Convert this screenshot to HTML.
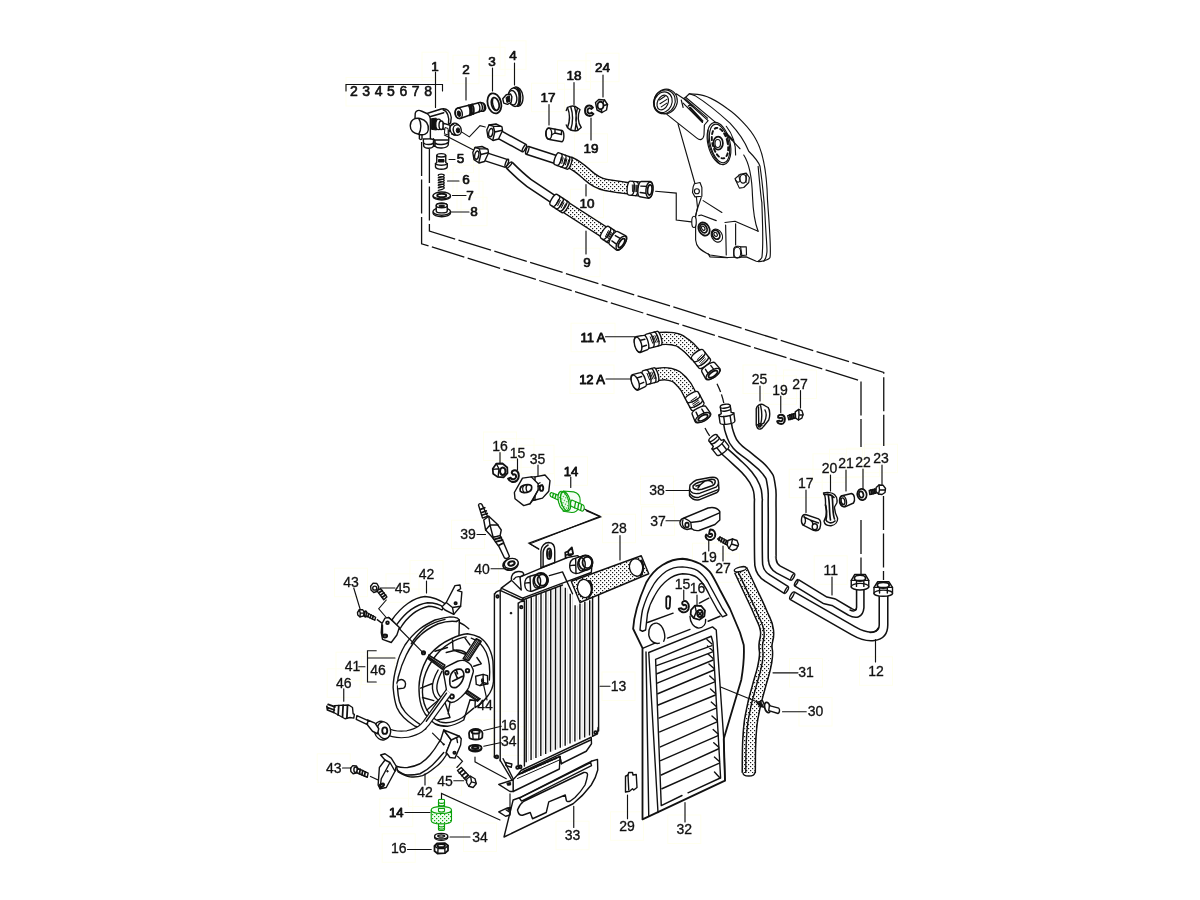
<!DOCTYPE html>
<html><head><meta charset="utf-8"><title>Oil cooler diagram</title>
<style>
html,body{margin:0;padding:0;background:#fff;}
body{width:1200px;height:900px;overflow:hidden;position:relative;font-family:"Liberation Sans",sans-serif;}
svg{position:absolute;left:0;top:0;will-change:transform;}
.l{vector-effect:non-scaling-stroke;fill:none;stroke:#111;stroke-width:1.4;stroke-linecap:round;stroke-linejoin:round;}
.w{vector-effect:non-scaling-stroke;fill:#fff;stroke:#111;stroke-width:1.4;stroke-linecap:round;stroke-linejoin:round;}
.k{vector-effect:non-scaling-stroke;fill:#111;stroke:#111;stroke-width:1;stroke-linejoin:round;}
.t{vector-effect:non-scaling-stroke;fill:none;stroke:#111;stroke-width:1.15;stroke-linecap:round;}
.d{vector-effect:non-scaling-stroke;fill:none;stroke:#111;stroke-width:1.3;stroke-dasharray:34 3.5;}
.ds{vector-effect:non-scaling-stroke;fill:none;stroke:#111;stroke-width:1.3;stroke-dasharray:9 2.5;}
.g{vector-effect:non-scaling-stroke;fill:#f4fdf4;stroke:#0aa00a;stroke-width:1.1;stroke-linejoin:round;}
.dot{vector-effect:non-scaling-stroke;fill:url(#dots);stroke:#111;stroke-width:1.4;stroke-linejoin:round;}
text{font-family:"Liberation Sans",sans-serif;font-size:14px;fill:#111;stroke:#111;stroke-width:.3px;text-anchor:middle;}
text.m{font-size:13.5px;stroke-width:.7px;stroke-linejoin:round;}
text.b{font-size:13px;stroke-width:.85px;word-spacing:-0.3px;stroke-linejoin:round;}
.hb{fill:none;stroke:#fbf7c8;stroke-width:1;}
.gl{vector-effect:non-scaling-stroke;fill:none;stroke:#0aa00a;stroke-width:1.3;stroke-linecap:round;}
.thin .l,.thin .w{stroke-width:1.15;}
</style></head>
<body>
<svg width="1200" height="900" viewBox="0 0 1200 900">
<defs>
<pattern id="dots" width="4" height="4" patternUnits="userSpaceOnUse"><rect width="4" height="4" fill="#fff"/><rect x="0" y="0" width="1.2" height="1.2" fill="#1c1c1c"/><rect x="2" y="2" width="1.2" height="1.2" fill="#1c1c1c"/></pattern>
<pattern id="gdots" width="4" height="4" patternUnits="userSpaceOnUse"><rect width="4" height="4" fill="#e9fbe9"/><rect x="0" y="0" width="1.2" height="1.2" fill="#10a810"/><rect x="2" y="2" width="1.2" height="1.2" fill="#10a810"/></pattern>
<pattern id="gdots10" width="4" height="4" patternUnits="userSpaceOnUse" patternTransform="scale(10)"><rect width="4" height="4" fill="#effcef"/><rect x="0" y="0" width="1.2" height="1.2" fill="#10a810"/><rect x="2" y="2" width="1.2" height="1.2" fill="#10a810"/></pattern>
<pattern id="gdots8" width="4" height="4" patternUnits="userSpaceOnUse" patternTransform="scale(8)"><rect width="4" height="4" fill="#effcef"/><rect x="0" y="0" width="1.2" height="1.2" fill="#10a810"/><rect x="2" y="2" width="1.2" height="1.2" fill="#10a810"/></pattern>
</defs>
<!--BOXES--><g fill="none" stroke="#ffffee" stroke-width="1"><rect x="422.0" y="52.2" width="26.0" height="28.5"/><rect x="453.0" y="55.2" width="26.0" height="28.5"/><rect x="479.0" y="47.2" width="26.0" height="28.5"/><rect x="500.0" y="40.8" width="26.0" height="28.5"/><rect x="531.5" y="83.2" width="33.0" height="28.5"/><rect x="557.5" y="60.8" width="33.0" height="28.5"/><rect x="586.0" y="53.2" width="33.0" height="28.5"/><rect x="574.5" y="133.8" width="33.0" height="28.5"/><rect x="447.5" y="144.2" width="26.0" height="28.5"/><rect x="453.0" y="165.2" width="26.0" height="28.5"/><rect x="457.0" y="181.2" width="26.0" height="28.5"/><rect x="461.0" y="197.2" width="26.0" height="28.5"/><rect x="570.5" y="189.2" width="33.0" height="28.5"/><rect x="574.0" y="248.2" width="26.0" height="28.5"/><rect x="571.0" y="323.2" width="44.0" height="28.5"/><rect x="570.0" y="365.0" width="44.0" height="28.5"/><rect x="743.0" y="365.0" width="33.0" height="28.5"/><rect x="763.5" y="375.8" width="33.0" height="28.5"/><rect x="783.5" y="370.0" width="33.0" height="28.5"/><rect x="813.0" y="453.8" width="33.0" height="28.5"/><rect x="829.5" y="449.2" width="33.0" height="28.5"/><rect x="846.5" y="448.2" width="33.0" height="28.5"/><rect x="864.5" y="444.2" width="33.0" height="28.5"/><rect x="789.2" y="469.2" width="33.0" height="28.5"/><rect x="640.5" y="476.2" width="33.0" height="28.5"/><rect x="641.5" y="506.8" width="33.0" height="28.5"/><rect x="692.5" y="543.2" width="33.0" height="28.5"/><rect x="706.5" y="553.8" width="33.0" height="28.5"/><rect x="814.2" y="555.8" width="33.0" height="28.5"/><rect x="859.5" y="656.8" width="33.0" height="28.5"/><rect x="789.5" y="658.5" width="33.0" height="28.5"/><rect x="666.0" y="570.0" width="33.0" height="28.5"/><rect x="681.0" y="574.2" width="33.0" height="28.5"/><rect x="483.5" y="432.0" width="33.0" height="28.5"/><rect x="501.0" y="438.8" width="33.0" height="28.5"/><rect x="521.0" y="445.2" width="33.0" height="28.5"/><rect x="554.5" y="456.8" width="33.0" height="28.5"/><rect x="451.5" y="520.2" width="33.0" height="28.5"/><rect x="465.5" y="555.0" width="33.0" height="28.5"/><rect x="602.5" y="514.2" width="33.0" height="28.5"/><rect x="410.0" y="560.5" width="33.0" height="28.5"/><rect x="334.5" y="568.2" width="33.0" height="28.5"/><rect x="386.0" y="573.8" width="33.0" height="28.5"/><rect x="336.0" y="652.2" width="33.0" height="28.5"/><rect x="361.5" y="656.2" width="33.0" height="28.5"/><rect x="327.2" y="668.8" width="33.0" height="28.5"/><rect x="468.5" y="691.2" width="33.0" height="28.5"/><rect x="492.2" y="711.2" width="33.0" height="28.5"/><rect x="492.2" y="726.8" width="33.0" height="28.5"/><rect x="602.0" y="672.0" width="33.0" height="28.5"/><rect x="317.2" y="753.8" width="33.0" height="28.5"/><rect x="408.5" y="778.0" width="33.0" height="28.5"/><rect x="428.5" y="766.8" width="33.0" height="28.5"/><rect x="379.8" y="798.2" width="33.0" height="28.5"/><rect x="463.5" y="823.0" width="33.0" height="28.5"/><rect x="382.2" y="833.8" width="33.0" height="28.5"/><rect x="556.0" y="821.2" width="33.0" height="28.5"/><rect x="610.5" y="811.8" width="33.0" height="28.5"/><rect x="667.8" y="815.0" width="33.0" height="28.5"/><rect x="799.0" y="697.5" width="33.0" height="28.5"/><rect x="346" y="77.5" width="90" height="28.5"/></g><!--/BOXES-->
<!--PARTS-->
<g transform="translate(400,80) scale(.125)">
<!-- valve body part 1 -->
<path class="w" d="M120 305 L122 265 C128 245 150 238 170 248 L215 268 L330 232 C375 222 405 250 410 300 L405 345 L390 350 L390 480 L385 522 C370 548 300 552 280 530 L268 530 C255 552 200 552 190 530 L186 472 L243 470 L243 330 C245 300 235 280 215 268"/>
<path class="l" d="M345 238 C380 250 395 295 388 345 M245 292 L350 262 M243 470 L280 480 L385 480 M268 470 L268 530 M280 480 L280 530 M190 505 C205 520 250 520 266 505 M282 505 C300 522 365 520 385 500"/>
<path class="w" d="M155 440 L155 470 C160 478 172 478 176 470 L176 440"/>
<path class="w" d="M82 365 C82 320 120 298 160 308 C205 320 232 350 226 400 C222 432 190 446 150 434 C108 425 82 402 82 365 Z"/>
<path class="l" d="M150 308 C172 340 172 400 150 434"/>
<path class="k" d="M250 310 L290 305 L292 400 L252 395 Z"/>
<ellipse class="w" cx="308" cy="355" rx="22" ry="42"/>
<ellipse class="w" cx="330" cy="362" rx="18" ry="34"/>
<path class="w" d="M345 345 L400 362 L400 410 L345 392 Z"/>
<path class="k" d="M360 380 L385 388 L385 440 L355 430 Z" style="fill:#fff"/>
<ellipse class="w" cx="440" cy="393" rx="40" ry="48" transform="rotate(-10 440 393)"/>
<ellipse class="w" cx="458" cy="400" rx="32" ry="42" transform="rotate(-10 458 400)"/>
<ellipse class="k" cx="464" cy="403" rx="14" ry="20"/>
<path class="l" d="M412 360 L430 352 M415 432 L440 440"/>
<path class="t" d="M492 415 L555 455 L640 365 L682 376"/>
<path class="t" d="M355 440 L592 562"/>
<!-- part 2 -->
<path class="w" d="M462 224 L640 180 C665 178 688 195 686 225 C684 245 665 255 650 248 L482 308 C455 312 438 290 440 262 C442 238 450 228 462 224Z"/>
<ellipse class="l" cx="470" cy="266" rx="28" ry="42" transform="rotate(-12 470 266)"/>
<ellipse class="k" cx="472" cy="270" rx="13" ry="22" transform="rotate(-12 472 270)"/>
<path class="l" d="M550 202 C562 225 565 255 558 282 M578 195 C590 218 594 248 586 272 M565 200 C575 222 578 250 572 277" style="stroke-width:1.89"/>
<path class="l" d="M625 185 C640 205 642 235 632 255 M645 180 C660 200 662 230 652 250 M665 185 C676 200 678 225 670 245"/>
<!-- part 3 -->
<ellipse class="w" cx="755" cy="187" rx="54" ry="82" transform="rotate(-14 755 187)" style="stroke-width:1.77"/>
<ellipse class="w" cx="762" cy="192" rx="30" ry="52" transform="rotate(-14 762 192)" style="stroke-width:1.77"/>
<path class="l" d="M742 150 C735 180 745 220 765 240"/>
<!-- part 4 -->
<ellipse class="w" cx="935" cy="133" rx="48" ry="78" transform="rotate(-8 935 133)"/>
<ellipse class="w" cx="915" cy="138" rx="46" ry="74" transform="rotate(-8 915 138)"/>
<ellipse class="w" cx="900" cy="142" rx="34" ry="58" transform="rotate(-8 900 142)"/>
<path class="w" d="M822 150 L850 118 L885 112 L895 135 L890 178 L860 195 L830 185 Z"/>
<path class="k" d="M848 140 L875 125 L880 170 L855 180 Z"/>
<path class="l" d="M935 60 C955 90 960 170 940 208 M950 70 C968 100 970 160 955 200"/>
</g>
<g transform="translate(320,40) scale(.25)">
<!-- part 5 -->
<path class="w" d="M467 462 C467 452 503 452 503 462 L503 490 L509 494 L509 508 C505 520 466 520 462 508 L462 494 L467 490 Z"/>
<path class="l" d="M467 463 C472 470 498 470 503 463 M462 495 C470 503 500 503 509 495"/>
<path class="k" d="M474 478 L496 478 L496 488 L474 488 Z"/>
<!-- part 6 spring -->
<path class="l" style="stroke-width:1.18" d="M473 542 C473 535 497 535 497 542 C497 549 473 549 473 552 M473 552 C473 545 497 545 497 552 C497 559 473 559 473 562 M473 562 C473 555 497 555 497 562 C497 569 473 569 473 572 M473 572 C473 565 497 565 497 572 C497 579 473 579 473 582 M473 582 C473 575 497 575 497 582 C497 589 473 589 473 592 M473 592 C473 585 497 585 497 592 C497 599 473 599 473 602"/>
<!-- part 7 -->
<ellipse class="w" cx="487" cy="626" rx="35" ry="14"/>
<ellipse class="w" cx="487" cy="622" rx="35" ry="14"/>
<ellipse class="w" cx="487" cy="622" rx="18" ry="7" style="stroke-width:1.89"/>
<!-- part 8 -->
<ellipse class="w" cx="487" cy="692" rx="35" ry="15"/>
<ellipse class="w" cx="487" cy="686" rx="35" ry="15"/>
<path class="w" d="M465 684 L465 662 C465 650 509 650 509 662 L509 684 C509 694 465 694 465 684Z"/>
<ellipse class="w" cx="487" cy="662" rx="22" ry="9"/>
<ellipse class="k" cx="487" cy="664" rx="12" ry="4"/>
<!-- part 17 -->
<path class="w" d="M915 352 L968 362 C978 366 978 402 968 407 L918 398 C900 396 900 352 915 352Z"/>
<ellipse class="l" cx="915" cy="375" rx="12" ry="22"/>
<path class="l" d="M940 357 L940 372 L966 378 L966 364 M940 372 L925 380"/>
<!-- part 18 -->
<path class="w" d="M990 270 C1005 262 1020 262 1030 272 L1040 278 C1030 300 1030 330 1045 350 L1030 362 C1015 365 1000 362 990 350 C1000 325 1000 295 990 270Z"/>
<path class="l" d="M1003 267 C1012 295 1012 330 1003 358 M1018 266 C1027 295 1027 330 1020 362 M1030 272 C1022 300 1022 335 1032 360 M990 350 L985 340 M990 270 L985 282"/>
<!-- part 19 -->
<path class="w" style="stroke-width:1.89" d="M1092 270 C1080 255 1060 262 1060 283 C1060 304 1082 310 1094 296 L1086 290 C1080 297 1070 294 1070 283 C1070 272 1080 270 1085 276 Z"/>
<!-- part 24 -->
<path class="w" d="M1102 250 L1115 238 L1138 240 L1150 258 L1146 280 L1128 290 L1108 280 Z"/>
<ellipse class="w" cx="1122" cy="262" rx="12" ry="15" style="stroke-width:1.89"/>
<path class="l" d="M1138 240 L1132 250 M1150 258 L1135 262 M1128 290 L1125 277"/>
</g>
<g>
<path d="M498.5 134 L524 148" fill="none" stroke="#111" stroke-width="9.7" stroke-linejoin="round" /><path d="M498.5 134 L524 148" fill="none" stroke="#fff" stroke-width="6.6" stroke-linejoin="round" />
<ellipse class="w" cx="524.3" cy="148.2" rx="1.225" ry="4.1" transform="rotate(29 524.3 148.2)"/>
<g transform="translate(440,100) scale(.1) translate(0,0)"><path class="w" d="M468 300 L490 250 L560 240 L620 268 L625 305 L585 390 L530 405 L480 372 Z"/><path class="l" d="M490 250 L532 262 L548 320 L528 400 M532 262 L612 264 M548 320 L622 302"/><ellipse class="l" cx="508" cy="326" rx="20" ry="42" transform="rotate(12 508 326)"/></g>
<path d="M527.5 150.4 L556 159.6" fill="none" stroke="#111" stroke-width="9.7" stroke-linejoin="round" /><path d="M527.5 150.4 L556 159.6" fill="none" stroke="#fff" stroke-width="6.6" stroke-linejoin="round" />
<ellipse class="w" cx="527.2" cy="150.3" rx="1.225" ry="4.1" transform="rotate(18 527.2 150.3)"/>
<path d="M569 162 C578 166 583 171 587.5 175 C593 180 598 183.5 606 185 C615 186.5 622 187.5 630 188.5" fill="none" stroke="#111" stroke-width="12.6" stroke-linejoin="round"/><path d="M569 162 C578 166 583 171 587.5 175 C593 180 598 183.5 606 185 C615 186.5 622 187.5 630 188.5" fill="none" stroke="#fff" stroke-width="9.5" stroke-linejoin="round"/><path d="M569 162 C578 166 583 171 587.5 175 C593 180 598 183.5 606 185 C615 186.5 622 187.5 630 188.5" fill="none" stroke="url(#dots)" stroke-width="9.5" stroke-linejoin="round"/>
<g transform="translate(563,161) rotate(20)"><path class="w" d="M-6.5 -6.25 L6.5 -6.25 C9.3125 -6.25 9.3125 6.25 6.5 6.25 L-6.5 6.25 C-9.3125 6.25 -9.3125 -6.25 -6.5 -6.25Z"/><path class="l" d="M-4.0625 -6.25 C-1.25 -6.25 -1.25 6.25 -4.0625 6.25"/><path class="l" d="M0 -6.25 C2.8125 -6.25 2.8125 6.25 0 6.25"/><path class="l" d="M4.0625 -6.25 C6.875 -6.25 6.875 6.25 4.0625 6.25"/><path d="M-2.925 -3.4375 L-2.175 3.125 M-0.975 -3.4375 L-0.225 3.125 M0.975 -3.4375 L1.725 3.125 M2.925 -3.4375 L3.675 3.125 M4.875 -3.4375 L5.625 3.125 " stroke="#111" stroke-width="0.9" fill="none"/></g>
<g transform="translate(634,188.5) rotate(5)"><path class="w" d="M-4.5 -7 L4.5 -7 C7.65 -7 7.65 7 4.5 7 L-4.5 7 C-7.65 7 -7.65 -7 -4.5 -7Z"/><path class="l" d="M-2.04545 -7 C1.10455 -7 1.10455 7 -2.04545 7"/><path class="l" d="M2.04545 -7 C5.19545 -7 5.19545 7 2.04545 7"/><path d="M-2.025 -3.85 L-1.185 3.5 M-0.675 -3.85 L0.165 3.5 M0.675 -3.85 L1.515 3.5 M2.025 -3.85 L2.865 3.5 M3.375 -3.85 L4.215 3.5 " stroke="#111" stroke-width="0.9" fill="none"/></g>
<g transform="translate(645,189.5) rotate(5)"><path class="w" d="M-4.5 -7.65 L4.5 -8.5 C8.75 -8.5 8.75 8.5 4.5 8.5 L-4.5 7.65 C-7.9 7.65 -7.9 -7.65 -4.5 -7.65Z"/><path class="l" d="M-4.5 -2.975 L4.5 -3.4 M-4.5 3.4 L4.5 3.825"/><ellipse class="w" cx="4.5" cy="0" rx="3.57" ry="7.82"/><ellipse class="w" cx="4.8" cy="0" rx="2.21" ry="5.1" style="stroke-width:1.77"/></g>
<path d="M485 156.5 L506.5 163.5" fill="none" stroke="#111" stroke-width="9.7" stroke-linejoin="round" /><path d="M485 156.5 L506.5 163.5" fill="none" stroke="#fff" stroke-width="6.6" stroke-linejoin="round" />
<ellipse class="w" cx="506.8" cy="163.1" rx="1.225" ry="4.1" transform="rotate(19 506.8 163.1)"/>
<g transform="translate(440,100) scale(.1) translate(-140,225)"><path class="w" d="M468 300 L490 250 L560 240 L620 268 L625 305 L585 390 L530 405 L480 372 Z"/><path class="l" d="M490 250 L532 262 L548 320 L528 400 M532 262 L612 264 M548 320 L622 302"/><ellipse class="l" cx="508" cy="326" rx="20" ry="42" transform="rotate(12 508 326)"/></g>
<path d="M509.4 165.25 Q520 176 529 183 L553 199" fill="none" stroke="#111" stroke-width="9.7" stroke-linejoin="round" /><path d="M509.4 165.25 Q520 176 529 183 L553 199" fill="none" stroke="#fff" stroke-width="6.6" stroke-linejoin="round" />
<ellipse class="w" cx="509.1" cy="165" rx="1.225" ry="4.1" transform="rotate(42 509.1 165)"/>
<path d="M566 207.5 L604 232" fill="none" stroke="#111" stroke-width="12.6" stroke-linejoin="round"/><path d="M566 207.5 L604 232" fill="none" stroke="#fff" stroke-width="9.5" stroke-linejoin="round"/><path d="M566 207.5 L604 232" fill="none" stroke="url(#dots)" stroke-width="9.5" stroke-linejoin="round"/>
<g transform="translate(559.5,203.5) rotate(33)"><path class="w" d="M-7 -6.25 L7 -6.25 C9.8125 -6.25 9.8125 6.25 7 6.25 L-7 6.25 C-9.8125 6.25 -9.8125 -6.25 -7 -6.25Z"/><path class="l" d="M-4.375 -6.25 C-1.5625 -6.25 -1.5625 6.25 -4.375 6.25"/><path class="l" d="M0 -6.25 C2.8125 -6.25 2.8125 6.25 0 6.25"/><path class="l" d="M4.375 -6.25 C7.1875 -6.25 7.1875 6.25 4.375 6.25"/><path d="M-3.15 -3.4375 L-2.4 3.125 M-1.05 -3.4375 L-0.3 3.125 M1.05 -3.4375 L1.8 3.125 M3.15 -3.4375 L3.9 3.125 M5.25 -3.4375 L6 3.125 " stroke="#111" stroke-width="0.9" fill="none"/></g>
<g transform="translate(608,234.5) rotate(33)"><path class="w" d="M-4 -7 L4 -7 C7.15 -7 7.15 7 4 7 L-4 7 C-7.15 7 -7.15 -7 -4 -7Z"/><path class="l" d="M-1.81818 -7 C1.33182 -7 1.33182 7 -1.81818 7"/><path class="l" d="M1.81818 -7 C4.96818 -7 4.96818 7 1.81818 7"/><path d="M-1.8 -3.85 L-0.96 3.5 M-0.6 -3.85 L0.24 3.5 M0.6 -3.85 L1.44 3.5 M1.8 -3.85 L2.64 3.5 M3 -3.85 L3.84 3.5 " stroke="#111" stroke-width="0.9" fill="none"/></g>
<g transform="translate(617.5,240.5) rotate(33)"><path class="w" d="M-4.5 -7.65 L4.5 -8.5 C8.75 -8.5 8.75 8.5 4.5 8.5 L-4.5 7.65 C-7.9 7.65 -7.9 -7.65 -4.5 -7.65Z"/><path class="l" d="M-4.5 -2.975 L4.5 -3.4 M-4.5 3.4 L4.5 3.825"/><ellipse class="w" cx="4.5" cy="0" rx="3.57" ry="7.82"/><ellipse class="w" cx="4.8" cy="0" rx="2.21" ry="5.1" style="stroke-width:1.77"/></g>
</g>
<g class="thin" transform="translate(640,75) scale(.125)">
<!-- tank body -->
<path class="w" d="M305 395 L440 870 L460 1060 L445 1130 L445 1320 C450 1370 470 1395 560 1440 L700 1460 L850 1455 L930 1490 C960 1500 1030 1480 1040 1460 C1052 1400 1030 1150 1020 1000 C1015 800 985 620 930 520 C880 420 760 310 700 270 C620 210 540 160 460 155 L395 150 L365 178 L330 200 Z"/>
<!-- neck -->
<path class="w" d="M215 315 L455 505 C480 525 505 520 512 480 L515 400 L545 365 L350 190 L290 150 Z"/>
<path class="l" d="M345 225 L500 380 M360 190 L540 345"/>
<path class="l" style="stroke-width:2.36" d="M400 262 L498 368"/>
<path class="l" d="M330 200 L345 260 M385 250 C395 240 410 240 420 250"/>
<ellipse class="w" cx="205" cy="212" rx="92" ry="100" transform="rotate(25 205 212)"/>
<ellipse class="l" cx="195" cy="215" rx="85" ry="97" transform="rotate(25 195 215)"/>
<ellipse class="l" cx="185" cy="218" rx="70" ry="85" transform="rotate(25 185 218)"/>
<ellipse class="l" cx="182" cy="220" rx="42" ry="62" transform="rotate(25 182 220)"/>
<path class="l" d="M155 200 L200 170 M160 230 L215 195 M170 255 L215 225"/>
<!-- right edge bands -->
<path class="l" d="M395 150 C410 155 425 160 440 165 C560 240 660 330 720 385 C800 470 850 560 870 610 C920 660 950 700 960 730 C985 900 1000 1100 1000 1120 C1008 1300 1020 1400 1015 1420 C1010 1460 1000 1480 990 1490"/>
<path class="l" d="M365 178 L600 375 C680 450 730 520 800 590 M830 640 C870 700 895 800 900 970 C905 1100 925 1200 945 1250 M945 730 C960 900 970 1000 975 1020 C980 1200 990 1350 975 1460 C965 1480 955 1485 945 1490"/>
<!-- cap -->
<ellipse class="w" cx="632" cy="548" rx="88" ry="172" transform="rotate(-14 632 548)"/>
<ellipse class="l" cx="636" cy="548" rx="74" ry="158" transform="rotate(-14 636 548)"/>
<ellipse class="l" cx="640" cy="545" rx="60" ry="125" transform="rotate(-14 640 545)" style="stroke-dasharray:3 3;stroke-width:1.89"/>
<ellipse class="w" cx="625" cy="545" rx="38" ry="52" style="stroke-width:1.77"/>
<ellipse class="l" cx="622" cy="548" rx="22" ry="32"/>
<path class="l" style="stroke-width:2.12" d="M690 470 L740 520"/>
<path class="l" d="M545 440 C535 520 560 640 640 712 M690 410 C740 470 770 560 765 640"/>
<!-- bolt upper right -->
<path class="w" d="M760 830 L800 795 L850 785 L875 820 L870 860 L830 900 L795 905 Z"/>
<ellipse class="l" cx="825" cy="830" rx="25" ry="35"/>
<path class="l" d="M765 840 C775 860 790 862 800 850 M790 800 L800 850 M850 790 L848 860"/>
<!-- lug -->
<path class="w" d="M435 870 L480 860 L495 900 L495 970 L440 975 L420 940 L425 895 Z"/>
<circle class="l" cx="455" cy="930" r="20"/>
<path class="l" d="M505 1005 L655 1100 M490 980 C470 1040 450 1090 445 1130"/>
<!-- panel -->
<path class="l" d="M470 1125 L490 1120 L610 1165 M680 1180 L760 1170 L945 1250 M685 1200 L690 1440 M765 1190 L765 1360"/>
<ellipse class="w" cx="432" cy="1175" rx="18" ry="45"/>
<ellipse class="w" cx="512" cy="1232" rx="42" ry="55" transform="rotate(-30 512 1232)" style="stroke-width:1.77"/>
<ellipse class="l" cx="508" cy="1228" rx="26" ry="36" transform="rotate(-30 508 1228)" style="stroke-width:1.77"/>
<ellipse class="l" cx="506" cy="1226" rx="12" ry="18" transform="rotate(-30 506 1226)"/>
<ellipse class="w" cx="615" cy="1285" rx="42" ry="55" transform="rotate(-30 615 1285)"/>
<ellipse class="l" cx="608" cy="1278" rx="28" ry="38" transform="rotate(-30 608 1278)" style="stroke-width:1.77"/>
<ellipse class="l" cx="605" cy="1275" rx="12" ry="18" transform="rotate(-30 605 1275)"/>
<!-- bolt bottom -->
<path class="w" d="M750 1390 C755 1370 790 1365 805 1375 L850 1375 L852 1440 L815 1445 C800 1470 760 1470 750 1450 Z"/>
<ellipse class="l" cx="778" cy="1420" rx="28" ry="42"/>
<path class="l" d="M805 1375 L815 1445"/>
<path class="l" d="M545 1430 L560 1455 L700 1462"/>
<!-- leader to hose 10 -->
<path class="t" d="M125 930 L290 945 L290 1160 L410 1175"/>
</g>
<g>
<path d="M656.25 338.75 C660.31 338.75 665.31 337.34 672.50 338.75 C679.69 340.16 679.06 340.16 685.00 344.38 C690.94 348.59 693.44 352.81 696.25 355.62" fill="none" stroke="#111" stroke-width="13.6" stroke-linejoin="round"/><path d="M656.25 338.75 C660.31 338.75 665.31 337.34 672.50 338.75 C679.69 340.16 679.06 340.16 685.00 344.38 C690.94 348.59 693.44 352.81 696.25 355.62" fill="none" stroke="#fff" stroke-width="10.5" stroke-linejoin="round"/><path d="M656.25 338.75 C660.31 338.75 665.31 337.34 672.50 338.75 C679.69 340.16 679.06 340.16 685.00 344.38 C690.94 348.59 693.44 352.81 696.25 355.62" fill="none" stroke="url(#dots)" stroke-width="10.5" stroke-linejoin="round"/>
<g transform="translate(653.5,339.75) rotate(-15)"><path class="w" d="M-5.5 -7.25 L5.5 -7.25 C8.7625 -7.25 8.7625 7.25 5.5 7.25 L-5.5 7.25 C-8.7625 7.25 -8.7625 -7.25 -5.5 -7.25Z"/><path class="l" d="M-2.5 -7.25 C0.7625 -7.25 0.7625 7.25 -2.5 7.25"/><path class="l" d="M2.5 -7.25 C5.7625 -7.25 5.7625 7.25 2.5 7.25"/><path d="M-2.475 -3.9875 L-1.605 3.625 M-0.825 -3.9875 L0.045 3.625 M0.825 -3.9875 L1.695 3.625 M2.475 -3.9875 L3.345 3.625 M4.125 -3.9875 L4.995 3.625 " stroke="#111" stroke-width="0.9" fill="none"/></g>
<g transform="translate(641.875,343.5) rotate(165)"><path class="w" d="M-4 -7.425 L4 -8.25 C8.125 -8.25 8.125 8.25 4 8.25 L-4 7.425 C-7.3 7.425 -7.3 -7.425 -4 -7.425Z"/><path class="l" d="M-4 -2.8875 L4 -3.3 M-4 3.3 L4 3.7125"/><ellipse class="w" cx="4" cy="0" rx="3.465" ry="7.59"/></g>
<g transform="translate(701,359) rotate(52)"><path class="w" d="M-6 -7.25 L6 -7.25 C9.2625 -7.25 9.2625 7.25 6 7.25 L-6 7.25 C-9.2625 7.25 -9.2625 -7.25 -6 -7.25Z"/><path class="l" d="M-2.72727 -7.25 C0.535227 -7.25 0.535227 7.25 -2.72727 7.25"/><path class="l" d="M2.72727 -7.25 C5.98977 -7.25 5.98977 7.25 2.72727 7.25"/><path d="M-2.7 -3.9875 L-1.83 3.625 M-0.9 -3.9875 L-0.03 3.625 M0.9 -3.9875 L1.77 3.625 M2.7 -3.9875 L3.57 3.625 M4.5 -3.9875 L5.37 3.625 " stroke="#111" stroke-width="0.9" fill="none"/></g>
<g transform="translate(710.625,370.625) rotate(55)"><path class="w" d="M-4 -7.875 L4 -8.75 C8.375 -8.75 8.375 8.75 4 8.75 L-4 7.875 C-7.5 7.875 -7.5 -7.875 -4 -7.875Z"/><path class="l" d="M-4 -3.0625 L4 -3.5 M-4 3.5 L4 3.9375"/><ellipse class="w" cx="4" cy="0" rx="3.675" ry="8.05"/><ellipse class="w" cx="4.3" cy="0" rx="2.275" ry="5.25" style="stroke-width:1.77"/></g>
<path d="M653.12 375.00 C657.34 374.84 662.66 372.50 670.00 374.38 C677.34 376.25 677.34 377.19 682.50 382.50 C687.66 387.81 688.59 392.34 690.62 395.62" fill="none" stroke="#111" stroke-width="13.6" stroke-linejoin="round"/><path d="M653.12 375.00 C657.34 374.84 662.66 372.50 670.00 374.38 C677.34 376.25 677.34 377.19 682.50 382.50 C687.66 387.81 688.59 392.34 690.62 395.62" fill="none" stroke="#fff" stroke-width="10.5" stroke-linejoin="round"/><path d="M653.12 375.00 C657.34 374.84 662.66 372.50 670.00 374.38 C677.34 376.25 677.34 377.19 682.50 382.50 C687.66 387.81 688.59 392.34 690.62 395.62" fill="none" stroke="url(#dots)" stroke-width="10.5" stroke-linejoin="round"/>
<g transform="translate(650.375,376.25) rotate(-15)"><path class="w" d="M-5.5 -7.25 L5.5 -7.25 C8.7625 -7.25 8.7625 7.25 5.5 7.25 L-5.5 7.25 C-8.7625 7.25 -8.7625 -7.25 -5.5 -7.25Z"/><path class="l" d="M-2.5 -7.25 C0.7625 -7.25 0.7625 7.25 -2.5 7.25"/><path class="l" d="M2.5 -7.25 C5.7625 -7.25 5.7625 7.25 2.5 7.25"/><path d="M-2.475 -3.9875 L-1.605 3.625 M-0.825 -3.9875 L0.045 3.625 M0.825 -3.9875 L1.695 3.625 M2.475 -3.9875 L3.345 3.625 M4.125 -3.9875 L4.995 3.625 " stroke="#111" stroke-width="0.9" fill="none"/></g>
<g transform="translate(639,381) rotate(160)"><path class="w" d="M-4 -7.425 L4 -8.25 C8.125 -8.25 8.125 8.25 4 8.25 L-4 7.425 C-7.3 7.425 -7.3 -7.425 -4 -7.425Z"/><path class="l" d="M-4 -2.8875 L4 -3.3 M-4 3.3 L4 3.7125"/><ellipse class="w" cx="4" cy="0" rx="3.465" ry="7.59"/></g>
<g transform="translate(694.75,401) rotate(62)"><path class="w" d="M-6 -7.25 L6 -7.25 C9.2625 -7.25 9.2625 7.25 6 7.25 L-6 7.25 C-9.2625 7.25 -9.2625 -7.25 -6 -7.25Z"/><path class="l" d="M-2.72727 -7.25 C0.535227 -7.25 0.535227 7.25 -2.72727 7.25"/><path class="l" d="M2.72727 -7.25 C5.98977 -7.25 5.98977 7.25 2.72727 7.25"/><path d="M-2.7 -3.9875 L-1.83 3.625 M-0.9 -3.9875 L-0.03 3.625 M0.9 -3.9875 L1.77 3.625 M2.7 -3.9875 L3.57 3.625 M4.5 -3.9875 L5.37 3.625 " stroke="#111" stroke-width="0.9" fill="none"/></g>
<g transform="translate(701,414) rotate(62)"><path class="w" d="M-4 -7.875 L4 -8.75 C8.375 -8.75 8.375 8.75 4 8.75 L-4 7.875 C-7.5 7.875 -7.5 -7.875 -4 -7.875Z"/><path class="l" d="M-4 -3.0625 L4 -3.5 M-4 3.5 L4 3.9375"/><ellipse class="w" cx="4" cy="0" rx="3.675" ry="8.05"/><ellipse class="w" cx="4.3" cy="0" rx="2.275" ry="5.25" style="stroke-width:1.77"/></g>
<path class="ds" d="M717 383.75 Q722 394 723.75 403"/>
<path class="ds" d="M705 428 Q708 434 711 437.5"/>
<path d="M727.50 422.75 C728.06 425.34 727.56 427.41 729.75 433.12 C731.94 438.84 731.03 439.53 736.25 445.62 C741.47 451.72 743.28 451.09 750.62 457.50 C757.97 463.91 760.47 464.38 765.62 471.25 C770.78 478.12 769.62 476.06 771.25 485.00 C772.88 493.94 771.91 490.75 772.12 507.00 C772.34 523.25 772.09 536.75 772.12 550.00 C772.16 563.25 772.22 557.50 772.25 560.00 Q773.12 566.25 778.12 569.38 L792.50 576.88" fill="none" stroke="#111" stroke-width="9.4" stroke-linejoin="round" /><path d="M727.50 422.75 C728.06 425.34 727.56 427.41 729.75 433.12 C731.94 438.84 731.03 439.53 736.25 445.62 C741.47 451.72 743.28 451.09 750.62 457.50 C757.97 463.91 760.47 464.38 765.62 471.25 C770.78 478.12 769.62 476.06 771.25 485.00 C772.88 493.94 771.91 490.75 772.12 507.00 C772.34 523.25 772.09 536.75 772.12 550.00 C772.16 563.25 772.22 557.50 772.25 560.00 Q773.12 566.25 778.12 569.38 L792.50 576.88" fill="none" stroke="#fff" stroke-width="6.3" stroke-linejoin="round" />
<path d="M723.12 450.00 C726.25 452.81 729.38 455.31 735.62 461.25 C741.88 467.19 743.03 467.50 748.12 473.75 C753.22 480.00 753.47 480.16 756.00 486.25 C758.53 492.34 757.69 492.94 758.25 498.12 C758.81 503.31 758.22 494.03 758.25 507.00 C758.28 519.97 758.25 535.50 758.38 550.00 C758.50 564.50 758.66 561.25 758.75 565.00 Q760.00 573.75 767.50 578.12 L786.25 590.00" fill="none" stroke="#111" stroke-width="9.4" stroke-linejoin="round" /><path d="M723.12 450.00 C726.25 452.81 729.38 455.31 735.62 461.25 C741.88 467.19 743.03 467.50 748.12 473.75 C753.22 480.00 753.47 480.16 756.00 486.25 C758.53 492.34 757.69 492.94 758.25 498.12 C758.81 503.31 758.22 494.03 758.25 507.00 C758.28 519.97 758.25 535.50 758.38 550.00 C758.50 564.50 758.66 561.25 758.75 565.00 Q760.00 573.75 767.50 578.12 L786.25 590.00" fill="none" stroke="#fff" stroke-width="6.3" stroke-linejoin="round" />
<ellipse class="w" cx="792.75" cy="577" rx="1.1025" ry="3.75" transform="rotate(30 792.75 577)"/>
<ellipse class="w" cx="786.5" cy="590.125" rx="1.1025" ry="3.75" transform="rotate(30 786.5 590.125)"/>
<path d="M796.50 582.75 L825.00 600.25 L833.75 602.25 L850.00 611.88 Q859.38 616.88 860.25 607.50 L860.25 587.50" fill="none" stroke="#111" stroke-width="8.9" stroke-linejoin="round" /><path d="M796.50 582.75 L825.00 600.25 L833.75 602.25 L850.00 611.88 Q859.38 616.88 860.25 607.50 L860.25 587.50" fill="none" stroke="#fff" stroke-width="5.8" stroke-linejoin="round" />
<path d="M792.12 595.62 L853.12 630.62 Q865.00 637.50 873.75 636.25 Q883.50 635.00 883.50 625.00 L883.50 592.50" fill="none" stroke="#111" stroke-width="10.1" stroke-linejoin="round" /><path d="M792.12 595.62 L853.12 630.62 Q865.00 637.50 873.75 636.25 Q883.50 635.00 883.50 625.00 L883.50 592.50" fill="none" stroke="#fff" stroke-width="7" stroke-linejoin="round" />
<ellipse class="w" cx="796.25" cy="582.625" rx="1.015" ry="3.5" transform="rotate(30 796.25 582.625)"/>
<ellipse class="w" cx="791.875" cy="595.5" rx="1.225" ry="4.1" transform="rotate(30 791.875 595.5)"/>
<path class="l" d="M850.00 610.00 Q855.00 612.50 856.25 608.75 M870.00 632.50 Q876.25 632.50 878.12 628.12"/>
<g transform="translate(860,581.875)"><path class="w" d="M-8.75 -1.5 L-5.25 -7.5 L5.25 -7.5 L8.75 -1.5 L8.75 5.25 L-8.75 5.25 Z"/><ellipse class="w" cx="0" cy="4.8" rx="8.75" ry="3.3"/><ellipse class="w" cx="0" cy="-3.75" rx="5.6" ry="3" style="stroke-width:1.77"/><path class="l" d="M-8.75 -1.5 L8.75 -1.5 M-3.5 -1.5 L-3.5 4.5 M3.85 -1.5 L3.85 4.5"/></g>
<g transform="translate(883.25,588.75)"><path class="w" d="M-9.25 -1.4 L-5.55 -7 L5.55 -7 L9.25 -1.4 L9.25 4.9 L-9.25 4.9 Z"/><ellipse class="w" cx="0" cy="4.48" rx="9.25" ry="3.08"/><ellipse class="w" cx="0" cy="-3.5" rx="5.92" ry="2.8" style="stroke-width:1.77"/><path class="l" d="M-9.25 -1.4 L9.25 -1.4 M-3.7 -1.4 L-3.7 4.2 M4.07 -1.4 L4.07 4.2"/></g>
<g transform="translate(726.5,415) rotate(-8)"><path class="w" d="M-5 -9 C-5 -11.5 5 -11.5 5 -9 L5 -2 L7.5 -1 L7.5 7 C7.5 10 -7.5 10 -7.5 7 L-7.5 -1 L-5 -2Z"/><path class="l" d="M-5 -8.5 C-5 -6.5 5 -6.5 5 -8.5 M-5 -5.5 C-5 -3.5 5 -3.5 5 -5.5 M-7.5 -1 C-7.5 2 7.5 2 7.5 -1 M-3 1 L-3 8.5 M3.5 1 L3.5 8.5"/></g>
<g transform="translate(718.5,445) rotate(-38)"><path class="w" d="M-5 -9 C-5 -11.5 5 -11.5 5 -9 L5 -2 L7.5 -1 L7.5 7 C7.5 10 -7.5 10 -7.5 7 L-7.5 -1 L-5 -2Z"/><path class="l" d="M-5 -8.5 C-5 -6.5 5 -6.5 5 -8.5 M-5 -5.5 C-5 -3.5 5 -3.5 5 -5.5 M-7.5 -1 C-7.5 2 7.5 2 7.5 -1 M-3 1 L-3 8.5 M3.5 1 L3.5 8.5"/></g>
</g>
<g transform="translate(780,460) scale(.1)">
<!-- 17 -->
<path class="w" d="M215 590 C218 560 235 545 255 545 L385 588 C405 600 412 640 398 685 C385 705 360 712 335 704 L232 652 C218 640 212 615 215 590Z"/>
<path class="l" d="M232 652 C260 640 262 590 240 562 M240 570 L300 598 C320 610 330 625 330 645 M300 598 L385 630"/>
<ellipse class="l" cx="348" cy="668" rx="26" ry="30"/>
<!-- 20 -->
<path class="w" d="M435 330 C470 320 520 325 545 345 C570 370 575 400 568 430 L545 470 C545 510 560 550 575 580 C580 620 550 650 510 658 C470 660 445 640 440 612 C470 560 470 500 455 450 C455 400 460 360 435 330Z"/>
<path class="l" d="M440 345 C480 340 520 350 540 375 M480 340 C500 420 490 520 505 600 M520 360 C535 440 520 520 545 590 M455 450 C465 500 470 560 460 600 C470 630 520 640 550 610" style="stroke-width:1.65"/>
<!-- 21 -->
<path class="w" d="M620 358 L715 335 C745 340 755 400 735 430 L650 468 C615 475 590 440 595 400 C598 375 605 362 620 358Z"/>
<ellipse class="l" cx="632" cy="412" rx="32" ry="54" transform="rotate(-12 632 412)"/>
<ellipse class="l" cx="630" cy="412" rx="18" ry="34" transform="rotate(-12 630 412)"/>
<!-- 22 -->
<ellipse class="w" cx="820" cy="345" rx="46" ry="56" transform="rotate(-15 820 345)" style="stroke-width:1.77"/>
<ellipse class="w" cx="812" cy="345" rx="22" ry="32" transform="rotate(-15 812 345)" style="stroke-width:1.77"/>
<!-- 23 -->
<path class="w" d="M892 305 L960 290 L962 330 L898 345 Z"/>
<path class="l" d="M910 300 L914 340 M928 296 L932 336 M946 292 L950 332" style="stroke-width:1.77"/>
<path class="w" d="M962 275 L990 250 L1030 252 L1055 285 L1050 325 L1020 345 L985 340 L960 315 Z"/>
<path class="l" d="M990 250 L995 300 L985 340 M995 300 L1052 300"/>
</g>
<g transform="translate(640,470) scale(.1)">
<!-- 38 -->
<path class="w" d="M495 190 L495 258 C520 290 560 305 590 298 L770 225 C785 215 792 195 788 175 L785 120 Z"/>
<path class="l" d="M497 235 C525 270 560 280 590 272 L775 198"/>
<path class="w" d="M500 150 C520 125 545 108 565 100 L700 75 C740 68 775 78 782 105 C790 135 775 160 760 172 L600 232 C560 240 520 235 505 210 C495 190 495 165 500 150Z"/>
<path class="l" d="M530 160 C545 140 570 128 600 120 L715 92 C740 90 755 100 752 120 C750 140 740 150 720 158 L620 192 C590 200 545 198 532 180Z M560 160 L600 150 L650 110 M600 150 L580 180 M650 110 C680 100 720 105 725 130" style="stroke-width:1.53"/>
<!-- 37 -->
<path class="w" d="M440 480 L680 380 C720 370 770 375 798 415 L798 500 L750 545 L590 605 C560 610 530 600 515 585 L470 595 C430 590 395 560 400 520 C405 495 420 485 440 480Z"/>
<path class="l" d="M515 585 L508 525 C540 520 580 518 610 510 L795 428 M508 525 C490 500 460 490 440 480 M430 500 C415 530 425 565 450 580"/>
<ellipse class="l" cx="470" cy="550" rx="18" ry="24" style="stroke-width:1.65"/>
<!-- 19 -->
<path class="w" style="stroke-width:1.89" d="M690 640 C700 615 690 600 705 595 C740 595 760 625 750 665 C740 700 695 710 670 690 C655 675 655 655 662 645 L680 660 C690 675 715 675 722 655 C725 640 715 632 705 640Z"/>
<!-- 27 -->
<path class="w" d="M775 690 L800 670 L885 715 L870 750 Z"/>
<path class="l" d="M800 672 L790 705 M822 683 L810 718 M845 695 L832 730 M865 706 L853 742" style="stroke-width:1.77"/>
<path class="w" d="M880 705 L925 690 L970 705 L985 745 L965 790 L925 805 L890 785 L872 750 Z"/>
<path class="l" d="M925 690 L915 740 L890 785 M915 740 L980 760"/>
</g>
<g transform="translate(690,395) scale(.125)">
<!-- 25 -->
<path class="w" d="M530 110 C535 85 560 70 580 75 L625 100 C640 120 642 170 630 200 L590 250 C575 275 550 278 540 265 L530 240 Z"/>
<path class="l" d="M548 95 L550 255 M565 85 C575 130 575 200 565 235 M600 120 C615 150 610 190 590 225 L570 235 M540 240 C550 225 570 225 575 245"/>
<circle class="l" cx="558" cy="248" r="8"/>
<!-- 19 -->
<path class="w" style="stroke-width:1.89" d="M705 180 C700 160 720 155 740 160 C765 170 765 215 745 228 C725 238 700 228 697 210 L715 205 C722 215 740 212 742 195 C742 182 730 178 722 185Z"/>
<!-- 27 -->
<path class="w" d="M782 165 L840 148 L845 182 L790 198 Z"/>
<path class="l" d="M798 160 L802 194 M812 156 L817 190 M827 152 L832 186" style="stroke-width:1.77"/>
<path class="w" d="M842 135 L870 115 L895 125 L905 155 L895 185 L868 200 L845 185 Z"/>
<path class="l" d="M870 115 L872 160 L868 200 M872 160 L903 160"/>
</g>
<g>
<path d="M526.40 599.19 L526.20 762.16M531.27 597.24 L531.07 760.10M536.14 595.29 L535.94 758.04M541.01 593.35 L540.81 755.98M545.88 591.40 L545.68 753.92M550.75 589.45 L550.55 751.86M555.62 587.50 L555.42 749.80M560.49 585.55 L560.29 747.74M565.36 587.83 L565.16 745.68M570.23 593.68 L570.03 743.62M575.10 605.28 L574.90 741.56M579.97 603.57 L579.77 739.50M584.84 601.87 L584.64 737.44M589.71 600.16 L589.51 735.38" fill="none" stroke="#111" stroke-width="1.4"/>
<path d="M528.70 599.69 L528.50 761.16M533.57 597.74 L533.37 759.10M538.44 595.79 L538.24 757.04M543.31 593.85 L543.11 754.98M548.18 591.90 L547.98 752.92M553.05 589.95 L552.85 750.86M557.92 588.00 L557.72 748.80M562.79 586.05 L562.59 746.74M567.66 588.33 L567.46 744.68M572.53 594.18 L572.33 742.62M577.40 605.78 L577.20 740.56M582.27 604.07 L582.07 738.50M587.14 602.37 L586.94 736.44M592.01 600.66 L591.81 734.38" fill="none" stroke="#ccc" stroke-width="0.7"/>
<path class="l" d="M494.4 593.75 V757.5 M500.2 590 V761 M518.2 603 V767 M524.4 601 V766 M592.6 596 V736 M598.6 594 V731"/>
<g transform="translate(480,535) scale(.125)">
<path class="w" d="M170 425 L250 365 L490 265 L700 180 L780 165 L895 250 L890 300 L660 385 L340 505 Z"/>
<path class="l" d="M170 428 L165 445 L335 522 L345 505 M335 522 L660 400 M555 325 L660 295 L740 470 M120 470 C125 455 150 445 165 442 M310 545 C315 535 340 528 355 530"/>
<circle class="l" cx="140" cy="492" r="10" style="stroke-width:1.77"/><circle class="l" cx="330" cy="577" r="10" style="stroke-width:1.77"/><circle class="k" cx="248" cy="625" r="7"/>
<path class="w" d="M487 262 L487 130 C490 85 520 60 550 60 C585 62 600 90 598 130 L598 220 Z"/>
<path class="l" d="M505 255 L505 140 C508 110 525 90 545 80"/>
<ellipse class="w" cx="553" cy="150" rx="17" ry="42" style="stroke-width:1.89"/><ellipse class="k" cx="556" cy="152" rx="6" ry="28"/>
<path class="w" d="M252 360 C245 320 270 295 305 292 C335 290 352 300 350 320 L320 335 L330 440 L255 365Z"/>
<path class="l" d="M320 335 C300 330 280 340 270 355"/>
<path class="w" d="M358 400 C355 360 375 335 400 330 L470 310 C520 300 548 330 545 370 C540 400 520 418 490 420 L420 448 C385 455 360 440 358 400Z"/>
<ellipse class="w" cx="488" cy="362" rx="55" ry="58" style="stroke-width:1.77"/><ellipse class="l" cx="498" cy="360" rx="38" ry="45" style="stroke-width:1.77"/><ellipse class="l" cx="455" cy="372" rx="30" ry="52"/>
<path class="l" d="M400 332 L405 450 M360 385 L402 380"/>
<path class="w" d="M718 260 C715 215 735 190 765 185 L830 165 C880 160 905 190 900 230 C898 260 880 275 850 280 L790 305 C750 312 722 300 718 260Z"/>
<ellipse class="w" cx="845" cy="222" rx="55" ry="58" style="stroke-width:1.77"/><ellipse class="l" cx="858" cy="220" rx="38" ry="45" style="stroke-width:1.77"/><ellipse class="l" cx="812" cy="235" rx="30" ry="52"/>
<path class="l" d="M765 188 L768 310 M720 245 L765 240"/>
<path class="l" style="stroke-width:1.77" d="M685 185 L682 140 L705 130 L708 160 M705 130 L735 100 L745 150 L720 165 M690 160 L740 150"/>
</g>
<path class="dot" d="M571.25 581.25 L641.25 555.75 L648.75 573.75 L580 602.5 Z"/>
<ellipse class="w" cx="584.5" cy="588.5" rx="7" ry="9.2" transform="rotate(-12 584.5 588.5)"/>
<path class="l" style="stroke-width:2.12" d="M590 581 C593 586 592.5 593 589 597"/>
<ellipse class="w" cx="636.3" cy="567.5" rx="6.8" ry="8.8" transform="rotate(-12 636.3 567.5)"/>
<path class="l" style="stroke-width:2.12" d="M641.5 560.5 C644 565 643.5 571 641 575"/>
<path class="t" d="M583.75 508.75 L600 516.25 L530 543.75 L538.75 548.75"/>
<g transform="translate(480,720) scale(.125)">
<path class="w" d="M330 402 L890 138 L892 190 L850 250 L650 350 L640 292 L300 440 Z"/>
<path class="l" d="M345 412 L885 160 M640 292 L650 350"/>
<path class="w" d="M300 440 L640 292 L635 392 L265 572 L262 480 Z"/>
<path class="l" style="stroke-width:1.00" d="M300 468 L635 320" />
<path class="l" style="stroke-width:1.89;stroke-dasharray:2 2" d="M330 425 L620 300"/>
<path class="w" d="M150 515 L230 490 L265 480 L265 572 L240 572 Z"/>
<path class="k" d="M215 505 L245 500 L245 520 L220 522Z"/>
<path class="l" d="M160 320 L255 480 M185 310 L265 470 M115 290 L118 300"/>
<circle class="l" cx="135" cy="295" r="11" style="stroke-width:1.77"/><circle class="l" cx="300" cy="380" r="11" style="stroke-width:1.77"/><circle class="l" cx="322" cy="375" r="11" style="stroke-width:1.77"/><circle class="l" cx="925" cy="100" r="11" style="stroke-width:1.77"/>
<path class="l" d="M205 340 L255 352 L250 378 L208 365 Z M945 60 L940 110 L900 130"/>
<path class="w" d="M265 640 L320 620 L890 330 L940 315 L942 400 C930 450 910 490 890 520 C860 560 820 610 745 670 L192 936 Z"/>
<path class="l" d="M315 625 L885 340 L892 365 L332 648 Z M300 720 C310 690 330 665 350 650 L830 420 C850 415 862 425 860 440 C855 480 845 500 840 520 C810 570 780 600 760 620 L720 650 C700 655 690 650 690 640 L682 600 L550 655 L530 740 L420 790 L402 740 L340 762 C320 765 305 745 300 720Z M890 330 L885 340"/>
<path class="l" d="M150 735 L215 705 L245 700 L240 760 L205 770 Z M210 720 L240 740" />
<path class="k" d="M215 705 L245 700 L235 730Z"/>
<path class="t" d="M-40 296 L-40 335 L210 470 M240 590 L240 700"/>
</g>
</g>
<g>
<path d="M740.60 570.00 C742.95 575.00 745.00 579.25 750.00 590.00 C755.00 600.75 756.38 603.00 760.60 613.00 C764.83 623.00 765.67 622.00 766.90 630.00 C768.12 638.00 765.73 638.75 765.50 645.00 C765.27 651.25 766.38 649.25 766.00 655.00 C765.62 660.75 765.81 660.00 764.00 668.00 C762.19 676.00 761.50 676.50 758.75 687.00 C756.00 697.50 755.29 698.00 753.00 710.00 C750.71 722.00 750.66 719.25 749.60 735.00 C748.54 750.75 748.96 763.50 748.75 773.00" fill="none" stroke="#111" stroke-width="14.6" stroke-linejoin="round"/><path d="M740.60 570.00 C742.95 575.00 745.00 579.25 750.00 590.00 C755.00 600.75 756.38 603.00 760.60 613.00 C764.83 623.00 765.67 622.00 766.90 630.00 C768.12 638.00 765.73 638.75 765.50 645.00 C765.27 651.25 766.38 649.25 766.00 655.00 C765.62 660.75 765.81 660.00 764.00 668.00 C762.19 676.00 761.50 676.50 758.75 687.00 C756.00 697.50 755.29 698.00 753.00 710.00 C750.71 722.00 750.66 719.25 749.60 735.00 C748.54 750.75 748.96 763.50 748.75 773.00" fill="none" stroke="#fff" stroke-width="11.2" stroke-linejoin="round"/><path d="M740.60 570.00 C742.95 575.00 745.00 579.25 750.00 590.00 C755.00 600.75 756.38 603.00 760.60 613.00 C764.83 623.00 765.67 622.00 766.90 630.00 C768.12 638.00 765.73 638.75 765.50 645.00 C765.27 651.25 766.38 649.25 766.00 655.00 C765.62 660.75 765.81 660.00 764.00 668.00 C762.19 676.00 761.50 676.50 758.75 687.00 C756.00 697.50 755.29 698.00 753.00 710.00 C750.71 722.00 750.66 719.25 749.60 735.00 C748.54 750.75 748.96 763.50 748.75 773.00" fill="none" stroke="url(#dots)" stroke-width="11.2" stroke-linejoin="round"/>
<path class="l" d="M737.60 570.90 C739.95 575.90 742.00 580.15 747.00 590.90 C752.00 601.65 753.38 603.90 757.60 613.90 C761.83 623.90 762.67 622.90 763.90 630.90 C765.12 638.90 762.73 639.65 762.50 645.90 C762.27 652.15 763.38 650.15 763.00 655.90 C762.62 661.65 762.81 660.90 761.00 668.90 C759.19 676.90 758.50 677.40 755.75 687.90 C753.00 698.40 752.29 698.90 750.00 710.90 C747.71 722.90 747.66 720.15 746.60 735.90 C745.54 751.65 745.96 764.40 745.75 773.90"/>
<ellipse class="w" cx="740.3" cy="569.3" rx="6.2" ry="2.2" transform="rotate(-14 740.3 569.3)"/>
<path class="w" d="M743 773 C743 777 754.6 777 754.6 773"/>
<g transform="translate(630,555) scale(.125)">
<path class="w" style="stroke-width:1.83" d="M25 590 C30 500 60 380 130 220 C170 150 210 110 260 80 C310 50 370 30 420 30 C480 35 520 50 560 70 C600 95 630 120 650 150 C680 200 700 240 720 280 L800 430 L880 620 L910 720 C915 800 910 880 890 1000 L750 1470 L760 1805 L100 2115 L100 745 Z"/>
<path class="l" d="M80 600 C85 540 90 490 100 440 C120 370 140 320 170 270 C200 210 240 165 290 130 C330 105 380 95 420 95 C470 98 510 108 540 125 C570 145 600 180 620 210 L680 320 L740 430 L775 480 L740 495 L700 440 L640 330 C625 300 610 265 590 240 C570 210 550 185 520 170 C490 155 455 150 420 150 C370 155 330 175 300 200 C260 230 225 275 200 320 C170 370 150 420 140 470 L125 600 L100 610 Z"/>
<path class="l" d="M140 540 L345 465 M555 385 L630 345 M625 530 L720 490 M300 665 L480 595 M105 745 L200 705"/>
<path class="l" style="stroke-width:1.77" d="M290 345 C292 325 320 325 322 345 L318 415 C316 435 292 435 290 415 Z"/>
<path class="l" d="M270 690 C290 650 270 560 215 545 C170 540 145 590 150 640 C158 690 200 715 235 705 M480 490 C480 540 510 580 550 585 C590 580 608 550 605 515"/>
<path class="w" style="stroke-width:1.89" d="M420 395 C410 370 440 360 455 375 C475 395 478 430 455 450 C430 468 395 455 390 430 L410 425 C420 440 445 440 452 420 C455 400 440 392 430 402Z"/>
<path class="w" style="stroke-width:1.77" d="M488 440 L520 405 L570 408 L600 445 L595 490 L555 518 L510 505 L485 475 Z"/>
<ellipse class="l" cx="560" cy="468" rx="22" ry="28" style="stroke-width:2.12"/><path class="l" d="M520 405 L530 455 L510 505 M530 455 L545 445 M548 480 L575 455 M550 460 L572 485"/>
</g>
<path class="l" d="M646 652 L648.75 816 M648.75 652.5 L658 812.5 M648.75 652.5 L712.5 626.9 L716.25 630 L723.75 739 L725 780.6"/>
<path class="l" d="M655.6 659.4 L711.25 636.25 L713 642.5 L720.6 778 M655.6 659.4 L661.25 805.6 L682 795.5 M688 792.8 L720.3 778"/>
<path class="l" d="M656.50 665.60 L711.90 645.60M706.90 639.60 L711.90 644.10M656.90 673.75 L712.50 651.90M707.50 645.90 L712.50 650.40M657.25 683.10 L713.10 660.00M708.10 654.00 L713.10 658.50M657.75 693.75 L714.00 670.00M709.00 664.00 L714.00 668.50M658.25 705.00 L714.75 681.90M709.75 675.90 L714.75 680.40M659.00 718.10 L715.50 695.00M710.50 689.00 L715.50 693.50M659.75 731.90 L716.25 708.10M711.25 702.10 L716.25 706.60M660.40 746.90 L717.00 721.90M712.00 715.90 L717.00 720.40M660.60 760.60 L718.10 735.60M713.10 729.60 L718.10 734.10M661.25 775.00 L718.75 748.75M713.75 742.75 L718.75 747.25M661.90 788.75 L719.40 763.10M714.40 757.10 L719.40 761.60M714.5 772 L720 778"/>
<path class="t" d="M720.6 687 L758 702.3"/>
<g transform="translate(630,640) scale(.125)">
<path class="w" d="M1015 500 L1060 485 L1085 540 L1040 530 Z"/><path class="k" d="M1020 505 L1050 498 L1065 530 L1040 525Z"/>
<ellipse class="w" cx="1100" cy="540" rx="22" ry="42" transform="rotate(-15 1100 540)" style="stroke-width:1.77"/>
<path class="w" d="M1115 525 L1190 545 C1200 555 1198 580 1185 588 L1110 565 Z"/>
</g>
<g transform="translate(560,640) scale(.25)">
<path class="w" d="M262 545 L272 540 L275 530 L290 530 L292 540 L305 538 L308 590 L295 600 L290 595 L278 605 L262 608 Z"/><path class="l" d="M272 540 L275 600"/>
</g>
</g>
<g transform="translate(370,570) scale(.125)">
<!-- shroud outer ring -->
<path class="w" d="M715 400 L700 385 C680 378 660 375 640 375 C600 380 560 390 520 400 C470 425 430 445 400 470 C350 510 310 555 280 600 C245 660 225 710 215 760 C195 830 185 880 185 940 C190 1000 200 1060 215 1100 C240 1160 280 1200 360 1250 L445 1272 L450 1245 L700 1000 Z"/>
<path class="l" d="M690 412 C640 405 590 415 545 430 C480 460 440 485 400 525 C350 570 320 620 290 680 C260 740 240 800 225 860 C215 920 215 960 235 1050 C250 1110 290 1160 400 1235 L450 1245"/>
<path class="l" d="M600 395 C540 410 490 430 450 455 C400 495 360 540 330 590 M715 420 C740 430 770 450 790 470 M690 412 L715 400"/>
<path class="w" d="M215 905 C215 885 245 870 265 880 C290 890 290 930 270 945 L230 950"/>
<circle class="l" cx="428" cy="662" r="13" style="stroke-width:1.89"/><circle class="k" cx="430" cy="660" r="5"/>
<!-- guard ring -->
<path class="w" d="M780 510 C820 515 850 525 880 540 C910 560 935 590 950 620 C970 660 985 710 985 760 L988 890 C985 930 965 980 940 1010 C910 1050 880 1080 840 1100 L842 1045 L800 1040 L750 1200 C700 1230 660 1245 620 1250 C580 1250 550 1245 520 1230 C480 1205 460 1180 440 1150 C410 1100 400 1060 395 1010 C390 960 392 900 400 860 C415 790 440 730 475 680 C510 640 560 590 650 550 C700 525 740 512 780 510Z"/>
<path class="l" d="M770 535 C720 540 680 560 640 585 C580 620 540 660 500 720 C460 780 430 850 422 920 C415 990 425 1060 450 1110 C475 1160 510 1195 560 1215 C610 1230 680 1215 740 1180 L830 1105"/>
<path class="l" d="M810 545 C860 560 900 600 930 660 C955 720 962 800 955 880"/>
<!-- blades / inner arcs -->
<path class="l" d="M405 945 L495 910 M420 1020 L510 1045 M455 1120 L560 1030 M600 1060 L640 1180 L540 1200 M640 1060 L625 1150 M660 560 L665 640 L780 680 M760 545 L800 600 M545 800 C510 860 495 900 500 950 C505 1000 525 1030 560 1050 M575 810 C545 870 530 910 535 950 C540 990 555 1010 580 1030 M610 660 L690 640 C720 640 750 650 770 665 M520 650 L620 620 M855 700 L890 750 L830 770"/>
<!-- spokes -->
<path class="w" d="M470 680 L600 760 L580 795 L465 710 Z"/>
<path class="l" style="stroke-width:1.06" d="M476 686 L596 765 M471 696 L590 776 M468 704 L584 786"/>
<path class="w" d="M850 550 L890 570 L790 725 L745 710 Z"/>
<path class="l" style="stroke-width:1.06" d="M860 556 L758 713 M871 563 L769 719 M881 568 L780 724"/>
<path class="w" d="M775 960 L880 1030 L860 1050 L765 985 Z"/>
<path class="l" style="stroke-width:1.06" d="M774 968 L872 1034 M770 978 L864 1044"/>
<path class="l" d="M880 1030 L845 1045 L800 1040"/>
<!-- hub plate -->
<path class="w" d="M585 810 C590 790 600 780 610 775 L700 730 C720 722 745 722 760 725 C790 740 810 760 815 775 C828 800 828 815 825 820 L790 940 C770 980 740 1010 700 1040 C680 1055 665 1060 650 1060 C630 1055 618 1045 615 1030 L610 950 L600 890 Z"/>
<circle class="l" cx="615" cy="822" r="14" style="stroke-width:1.89"/><circle class="l" cx="780" cy="805" r="14" style="stroke-width:1.89"/><circle class="l" cx="655" cy="1012" r="16" style="stroke-width:1.89"/>
<path class="l" style="stroke-width:1.65" d="M650 830 C670 800 700 790 730 795 C750 810 755 840 745 870 C735 900 715 925 690 940 C665 945 645 935 640 915 C635 880 640 850 650 830Z M680 820 L700 870 L660 890 M700 870 L740 850 M690 800 L700 830"/>
<!-- cable from hub -->
<path d="M630 975 L450 1225 C420 1262 395 1290 300 1312 C230 1322 170 1310 120 1285" fill="none" stroke="#111" stroke-width="7.8" vector-effect="non-scaling-stroke"/>
<path d="M630 975 L450 1225 C420 1262 395 1290 300 1312 C230 1322 170 1310 120 1285" fill="none" stroke="#fff" stroke-width="5.4" vector-effect="non-scaling-stroke"/>
<path class="l" d="M612 985 L450 1210"/>
<!-- grommet & connector -->
<ellipse class="w" cx="95" cy="1285" rx="60" ry="76" transform="rotate(-15 95 1285)"/>
<ellipse class="w" cx="112" cy="1282" rx="52" ry="68" transform="rotate(-15 112 1282)"/>
<ellipse class="w" cx="118" cy="1285" rx="20" ry="26" style="stroke-width:1.89"/>
<path class="w" d="M-20 1200 L40 1225 L70 1270 L60 1310 L20 1290 L-20 1240 Z"/>
<path class="w" d="M-105 1165 L-15 1205 L-25 1235 L-110 1195 Z"/>
<path class="w" d="M-285 1085 L-170 1080 L-140 1100 L-135 1150 L-125 1155 L-130 1185 L-160 1180 L-200 1190 L-290 1140 Z"/>
<path class="l" style="stroke-width:1.77" d="M-340 1100 L-285 1120 M-335 1075 L-280 1095 M-250 1085 L-255 1160 M-215 1082 L-220 1175 M-180 1085 L-185 1185 M-290 1140 L-340 1120 L-345 1090"/>
<!-- part 44 -->
<path class="w" d="M845 850 L905 835 L940 845 L942 910 L880 925 L850 915 Z"/>
<path class="l" d="M905 835 L905 900 L880 925 M905 900 L942 910"/><ellipse class="l" cx="900" cy="885" rx="9" ry="14" style="stroke-width:1.06"/>
<!-- upper bracket 42 -->
<path class="w" d="M175 400 C250 290 350 220 440 212 C500 215 560 240 610 275 L590 300 L575 320 C530 295 500 290 470 290 C380 310 300 370 240 470 Z"/>
<path class="l" d="M215 435 C290 330 370 275 460 262 C520 262 560 275 590 300"/>
<path class="w" d="M95 430 L120 385 L150 380 L235 460 L215 520 L170 580 L100 555 L90 500 Z"/>
<circle class="l" cx="140" cy="422" r="11" style="stroke-width:1.77"/><ellipse class="l" cx="120" cy="528" rx="16" ry="11" style="stroke-width:2.12"/><path class="l" d="M150 380 L175 400 M100 440 L100 520"/>
<path class="w" d="M610 260 L680 125 L720 120 L725 150 L700 165 L735 175 L725 290 L670 355 L600 320 L575 295 Z"/>
<path class="l" d="M610 260 L660 300 L725 290 M660 300 L670 355"/><circle class="l" cx="685" cy="266" r="9" style="stroke-width:1.89"/>
<!-- bolt 45 upper -->
<path class="w" d="M5 130 L25 105 L55 108 L70 135 L60 170 L30 180 L8 160 Z"/><circle class="l" cx="38" cy="145" r="16"/>
<path class="w" d="M55 165 L85 150 L135 215 L110 238 Z"/><path class="l" style="stroke-width:1.77" d="M70 182 L98 165 M85 200 L112 183 M98 218 L125 200"/>
<path class="t" d="M130 240 L70 310 L130 380 M235 470 L418 655"/>
<!-- bolt 43 upper -->
<path class="w" d="M-100 340 L-85 318 L-58 318 L-45 340 L-52 368 L-80 375 L-98 360 Z"/><path class="l" d="M-85 318 L-78 345 L-80 375 M-78 345 L-47 345"/>
<ellipse class="w" cx="-36" cy="352" rx="10" ry="22" style="stroke-width:1.77"/>
<path class="w" d="M-28 340 L45 378 L38 402 L-32 366 Z"/>
<path class="l" style="stroke-width:1.77" d="M-10 350 L-17 374 M8 359 L1 383 M26 368 L19 392"/>
<path class="ds" d="M55 395 L95 425"/>
</g>
<g transform="translate(320,680) scale(.125)">
<!-- lower bracket 42 -->
<path class="w" d="M610 690 C640 700 670 703 700 700 C740 695 770 685 800 670 C830 650 860 625 880 600 C910 565 930 535 950 500 L965 480 L990 400 L1050 480 L1010 580 L1010 600 C980 650 950 680 920 700 C890 725 860 750 820 765 C790 775 750 778 720 775 C690 770 660 755 625 735 Z"/>
<path class="l" d="M615 720 C650 745 680 758 700 760 C740 760 770 758 800 750 C840 730 870 710 900 680 C940 640 965 610 990 580"/>
<path class="w" d="M485 600 L520 590 L570 625 L610 690 L600 730 L530 860 L480 870 L465 840 L475 700 L520 640 Z"/>
<path class="l" d="M520 640 L560 660 L600 730 M560 660 L490 790 L480 870"/><circle class="k" cx="540" cy="730" r="6"/><ellipse class="l" cx="495" cy="842" rx="18" ry="11" transform="rotate(-25 495 842)" style="stroke-width:2.12"/>
<path class="w" d="M990 400 L1115 450 L1130 470 L1125 520 L1080 625 L1040 620 L1010 580 L1050 480 Z"/>
<path class="l" d="M1050 480 L1115 450 M1095 470 L1100 500"/><circle class="l" cx="1076" cy="582" r="9" style="stroke-width:1.89"/>
<path class="t" d="M900 425 L985 510"/><circle class="k" cx="990" cy="515" r="6"/>
<!-- bolt 43 lower -->
<path class="w" d="M245 705 L262 685 L292 688 L305 712 L295 742 L265 750 L247 732 Z"/><ellipse class="l" cx="285" cy="718" rx="14" ry="22"/>
<path class="w" d="M300 705 L385 745 L378 778 L295 742 Z"/><path class="l" style="stroke-width:1.77" d="M322 715 L315 750 M342 725 L335 758 M362 735 L355 768"/>
<path class="ds" d="M400 770 L465 800"/>
<!-- bolt 45 lower -->
<path class="t" d="M1100 610 L1140 650 L1095 700"/>
<path class="w" d="M1100 725 L1130 700 L1200 775 L1170 805 Z"/><path class="l" style="stroke-width:1.77" d="M1115 745 L1145 720 M1135 765 L1165 740 M1155 788 L1185 762"/>
<path class="w" d="M1175 790 L1205 770 L1240 790 L1250 830 L1225 860 L1190 850 L1172 820 Z"/><path class="l" d="M1205 770 L1212 815 L1190 850 M1212 815 L1248 825"/>
</g>
<g transform="translate(380,770) scale(.1)">
<!-- part 14 lower (green) -->
<path class="g" d="M585 300 C585 290 645 290 645 300 L645 410 L585 410 Z"/>
<path class="gl" d="M585 325 C600 335 630 335 645 325 M585 350 C600 360 630 360 645 350 M585 375 C600 385 630 385 645 375"/>
<path class="g" d="M585 530 L645 530 L645 598 C645 608 585 608 585 598 Z"/>
<path class="gl" d="M585 560 C600 570 630 570 645 560 M585 582 C600 592 630 592 645 582"/>
<path class="g" style="fill:url(#gdots10)" d="M512 400 L512 505 C512 550 715 550 715 505 L715 400 C715 440 512 440 512 400Z"/>
<path class="g" d="M512 400 C512 355 715 355 715 400 C715 445 512 445 512 400Z"/>
<path class="g" d="M585 385 L645 385 L645 412 C630 420 600 420 585 412Z"/>
<!-- washer 34 -->
<ellipse class="w" cx="612" cy="674" rx="66" ry="30" style="stroke-width:1.30"/>
<ellipse class="w" cx="612" cy="662" rx="66" ry="28" style="stroke-width:1.42"/>
<ellipse class="w" cx="612" cy="660" rx="34" ry="11" style="stroke-width:1.42"/>
<!-- nut 16 -->
<path class="w" style="stroke-width:1.77" d="M545 760 L570 735 L650 732 L680 755 L680 805 L650 832 L575 835 L545 810 Z"/>
<ellipse class="w" cx="612" cy="757" rx="38" ry="16" style="stroke-width:1.89"/>
<path class="l" d="M545 762 L580 785 L648 785 L680 758 M580 785 L578 833 M648 785 L650 830"/>
<path class="t" d="M615 285 L615 235 L1200 500"/>
</g>
<g transform="translate(470,450) scale(.125)">
<!-- nut 16 upper -->
<path class="w" style="stroke-width:1.77" d="M182 150 L210 110 L260 108 L298 140 L300 185 L270 218 L220 215 L185 190 Z"/>
<ellipse class="w" cx="262" cy="170" rx="22" ry="30" style="stroke-width:2.01"/>
<path class="l" d="M210 110 L232 150 L225 212 M232 150 L182 155"/>
<!-- washer 15 -->
<path class="w" style="stroke-width:2.01" d="M335 185 C330 165 360 155 378 170 C395 190 395 225 375 245 C350 265 315 255 305 230 L325 222 C335 240 360 238 368 218 C372 198 355 190 345 198Z"/>
<!-- part 35 -->
<path class="w" d="M520 215 L600 200 L640 245 L630 330 L580 385 L520 400 Z"/>
<path class="w" d="M355 340 L420 225 L490 215 L545 270 L545 320 L480 430 L430 445 L360 390 Z"/>
<path class="l" d="M490 215 L520 215 M545 270 L560 262 M480 430 L500 405 L545 320 M500 405 L520 400 M545 290 L580 280"/>
<path class="w" style="stroke-width:1.77" d="M405 300 C415 280 470 270 490 285 C500 305 490 325 475 332 C450 345 415 345 403 330 C398 320 400 308 405 300Z"/>
<path class="l" d="M430 285 C418 300 420 325 432 340 M458 278 C446 295 448 320 460 338"/>
<ellipse class="l" cx="572" cy="305" rx="14" ry="22" style="stroke-width:1.89"/>
<!-- part 14 upper -->
<path class="g" d="M650 340 L715 365 L705 400 L645 372 C638 360 642 345 650 340Z"/>
<path class="gl" d="M668 348 L660 378 M688 356 L680 387"/>
<path class="g" d="M745 328 L830 335 C870 345 885 380 880 420 C875 470 850 500 815 500 L745 490 Z"/>
<ellipse class="g" cx="748" cy="410" rx="40" ry="82" transform="rotate(-15 748 410)" style="fill:url(#gdots8)"/>
<ellipse class="gl" cx="765" cy="410" rx="36" ry="80" transform="rotate(-15 765 410)"/>
<path class="g" d="M815 400 L905 440 C920 450 915 485 898 490 L810 450 C800 435 805 410 815 400Z"/>
<path class="gl" d="M845 414 L836 462 M870 425 L862 473 M893 436 L885 482"/>
<path class="t" d="M930 485 L1045 535 L470 745 L550 795"/>
<!-- part 39 sensor -->
<path class="w" d="M68 440 C70 428 88 425 95 435 L140 530 L100 545 Z"/>
<path class="l" style="stroke-width:1.77" d="M85 475 L118 462 M95 500 L130 487 M100 520 L138 508"/>
<path class="w" d="M110 560 L150 530 L215 590 L250 640 L240 690 L180 700 L125 640 Z"/>
<path class="l" d="M150 530 L160 600 L125 640 M160 600 L225 600 M160 600 L185 698"/>
<path class="w" d="M180 700 L240 685 L270 740 L225 765 Z"/>
<path class="l" style="stroke-width:1.89" d="M195 715 L250 700 M205 735 L260 720"/>
<path class="w" d="M228 765 L270 745 L315 850 C310 868 285 872 275 862 Z"/>
</g>
<g transform="translate(420,420) scale(.25)">
<!-- washer 40 -->
<ellipse class="w" cx="362" cy="578" rx="30" ry="22" transform="rotate(-15 362 578)" style="stroke-width:1.77"/>
<ellipse class="w" cx="365" cy="574" rx="28" ry="20" transform="rotate(-15 365 574)"/>
<ellipse class="w" cx="366" cy="574" rx="13" ry="8" transform="rotate(-15 366 574)" style="stroke-width:2.12"/>
</g>
<g transform="translate(370,640) scale(.125)">
<!-- nut 16 / washer 34 beside radiator -->
<path class="w" style="stroke-width:1.77" d="M792 745 C795 725 820 712 845 712 C875 712 898 728 900 745 L898 780 C885 800 810 802 795 782 Z"/>
<ellipse class="w" cx="846" cy="735" rx="32" ry="14" style="stroke-width:1.89"/>
<path class="l" d="M822 755 L825 795 M872 755 L870 795"/>
<ellipse class="w" cx="842" cy="868" rx="50" ry="24" style="stroke-width:1.89"/><ellipse class="w" cx="842" cy="862" rx="50" ry="22" style="stroke-width:1.77"/><ellipse class="w" cx="842" cy="862" rx="26" ry="10" style="stroke-width:1.89"/>
</g>
<!--/PARTS-->
<!--LEADERS-->
<path class="t" d="M466 77.5L466 100M492.5 68L492.5 91M514.5 63L514.5 85M549 104.5L549 125M574 82.5L574 104.5M603 75L603 97M591 118L591 140M449 159.5L455 159.5M447.5 181L459 181M452.5 195.5L466 195.5M451 212L469 212M586 184.5L586 196M586 231L586 254M605.5 336.75L635 336.75M606 379L631 379M760 386L760 401M780.75 396L780.75 412.5M800.5 390.5L800.5 408M830.5 475L830.5 491M846 470L846 491M863 469L863 489M882 465L882 484.5M806 490L806 512.5M666 490.5L689 490.5M666 520.75L679.5 520.75M708.75 540.5L708.75 551M723 546L723 561M832 577L832 595M875.5 639.5L875.5 662M773 672.8L798 672.8M683.75 590L683.75 600M697 595L697 605M500 452.5L500 463M517.5 458.75L517.5 470M538 465L538 475.5M570.75 477L570.75 487.5M477 534.5L485.5 534.5M491 568.75L503.75 568.75M620 535.5L620 560M426.5 581L426.5 593M353.75 588L360 608.75M380 588L395 588M358.75 666.75L365 666.75M367.5 658L395 658M343.75 688.75L343.75 701.25M482.5 680L487 700M483.75 730.5L501.25 726.25M483.75 746.25L501.25 742.5M600 686.25L610 686.25M342.5 768L351.25 768M425 773.75L425 785M453.75 780.75L463.75 780.75M405 812.5L430 812.5M450 837L470 837M407.5 849.5L431.25 849.5M573.75 806.25L573.75 827.5M627.5 795L627.5 818.75M685 802.5L685 822M782.5 711.75L806.25 711.75"/>
<path class="t" d="M346 91V84.5H442.5V91M435.5 72V107.5"/>
<path class="t" d="M376.25 650.75H367.5V682H376.25"/>
<path class="d" d="M421.6 142V243.75L861 381V447"/>
<path class="d" d="M429.4 149V231L883.75 372.5V446"/>
<path class="d" d="M861 520V574"/>
<path class="d" d="M883.5 496V580"/>
<!--/LEADERS-->
<!--LABELS-->
<text x="435" y="71" class="m">1</text>
<text x="466" y="74" class="m">2</text>
<text x="492" y="66" class="m">3</text>
<text x="513" y="59.5" class="m">4</text>
<text x="548" y="102" class="m">17</text>
<text x="574" y="79.5" class="m">18</text>
<text x="602.5" y="72" class="m">24</text>
<text x="591" y="152.5" class="m">19</text>
<text x="460.5" y="163" class="m">5</text>
<text x="466" y="184" class="m">6</text>
<text x="470" y="200" class="m">7</text>
<text x="474" y="216" class="m">8</text>
<text x="587" y="208" class="m">10</text>
<text x="587" y="267" class="m">9</text>
<text x="593" y="342" class="b">11 A</text>
<text x="592" y="383.75" class="b">12 A</text>
<text x="759.5" y="383.75">25</text>
<text x="780" y="394.5">19</text>
<text x="800" y="388.75">27</text>
<text x="829.5" y="472.5">20</text>
<text x="846" y="468">21</text>
<text x="863" y="467">22</text>
<text x="881" y="463">23</text>
<text x="805.75" y="488">17</text>
<text x="657" y="495">38</text>
<text x="658" y="525.5">37</text>
<text x="709" y="562">19</text>
<text x="723" y="572.5">27</text>
<text x="830.75" y="574.5">11</text>
<text x="876" y="675.5">12</text>
<text x="806" y="677.3">31</text>
<text x="682.5" y="588.75">15</text>
<text x="697.5" y="593">16</text>
<text x="500" y="450.75">16</text>
<text x="517.5" y="457.5">15</text>
<text x="537.5" y="464">35</text>
<text x="571" y="475.5" class="b">14</text>
<text x="468" y="539">39</text>
<text x="482" y="573.75">40</text>
<text x="619" y="533">28</text>
<text x="426.5" y="579.3">42</text>
<text x="351" y="587">43</text>
<text x="402.5" y="592.5">45</text>
<text x="352.5" y="671">41</text>
<text x="378" y="675">46</text>
<text x="343.75" y="687.5">46</text>
<text x="485" y="710">44</text>
<text x="508.75" y="730">16</text>
<text x="508.75" y="745.5">34</text>
<text x="618.5" y="690.75">13</text>
<text x="333.75" y="772.5">43</text>
<text x="425" y="796.75">42</text>
<text x="445" y="785.5">45</text>
<text x="396.25" y="817" class="b">14</text>
<text x="480" y="841.75">34</text>
<text x="398.75" y="852.5">16</text>
<text x="572.5" y="840">33</text>
<text x="627" y="830.5">29</text>
<text x="684.25" y="833.75">32</text>
<text x="815.5" y="716.25">30</text>
<text x="391" y="96" class="b" style="font-size:14px;stroke-width:.6px" textLength="82" lengthAdjust="spacing">2 3 4 5 6 7 8</text>
<!--/LABELS-->
</svg>
</body></html>
